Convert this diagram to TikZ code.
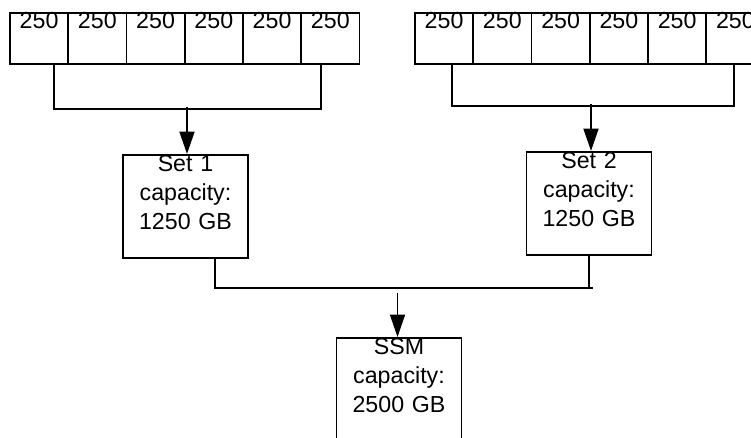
\documentclass[tikz,border=0pt]{standalone}
\usepackage{fontspec}
\setmainfont{Liberation Sans}
\usepackage{tikz}
\usetikzlibrary{arrows.meta, positioning, calc}

\begin{document}
\begin{tikzpicture}[
    line width=1.1pt,
    cell/.style={draw, anchor=north west, minimum width=1.165cm,
                 inner xsep=0pt, inner ysep=0pt, text height=0.32cm,
                 text depth=0.70cm, font=\fontsize{13.2}{15}\selectfont},
    setbox/.style={draw, anchor=north, text width=2.5cm, align=center,
                   inner xsep=0pt, inner ysep=0pt, text height=0.34cm,
                   text depth=1.72cm, font=\fontsize{13.2}{16.5}\selectfont},
    arr/.style={-{Triangle[length=0.45cm, width=0.3cm]}}
  ]
    \clip (0,0) rectangle (15.02,-8.74);

    % disks of the two sets
    \foreach \i in {1,...,6} {
      \node[cell] (a\i) at (0.18+1.165*\i-1.165,-0.24) {250};
      \node[cell] (b\i) at (8.28+1.165*\i-1.165,-0.24) {250};
    }

    \node[setbox] (set1) at (3.71,-3.08) {Set 1\\capacity:\\1250 GB};
    \node[setbox] (set2) at (11.78,-3.02) {Set 2\\capacity:\\1250 GB};
    \node[setbox] (ssm) at (7.98,-6.74) {SSM\\capacity:\\2500 GB};

    % brackets
    \coordinate (la) at ($(a1.south west)+(0.9,0)$);
    \coordinate (lb) at ($(a6.south west)+(0.42,0)$);
    \coordinate (ra) at ($(b1.south west)+(0.76,0)$);
    \coordinate (rb) at ($(b6.south west)+(0.58,0)$);
    \draw (la) -- ++(0,-0.88) -| (lb);
    \draw (ra) -- ++(0,-0.82) -| (rb);

    \coordinate (m1) at (3.74,-2.14);
    \coordinate (m2) at (11.82,-2.08);
    \draw[arr] (m1) -- (m1 |- set1.north);
    \draw[arr] (m2) -- (m2 |- set2.north);

    \coordinate (p1) at ($(set1.south)+(0.59,0)$);
    \draw (p1) -- ++(0,-0.58) -- ++(7.56,0);
    \draw (set2.south) -- ++(0,-0.62);

    \coordinate (m3) at (7.95,-5.86);
    \draw[arr] (m3) -- (m3 |- ssm.north);
  \end{tikzpicture}
\end{document}
